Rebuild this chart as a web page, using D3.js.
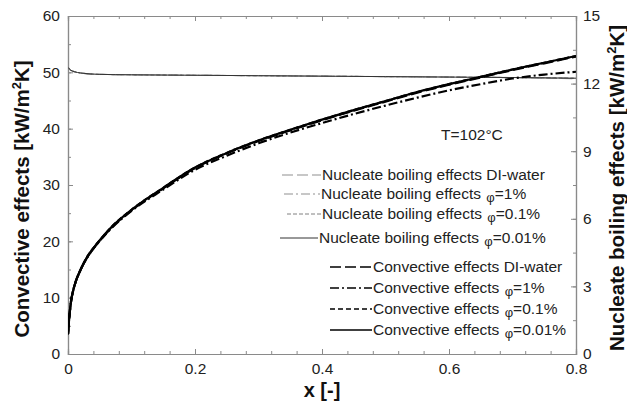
<!DOCTYPE html>
<html><head><meta charset="utf-8">
<script src="https://cdn.jsdelivr.net/npm/d3@7"></script>
<style>body{margin:0;background:#fff}svg{display:block;font-family:"Liberation Sans",Arial,sans-serif}</style>
</head><body><svg id="c" width="627" height="408"></svg>
<script>
// ---- data ----
const xs = [0, 0.002, 0.005, 0.008, 0.012, 0.02, 0.03, 0.04, 0.05, 0.07, 0.1, 0.15, 0.2, 0.25, 0.3, 0.35, 0.4, 0.45, 0.5, 0.55, 0.6, 0.65, 0.7, 0.75, 0.8];
const convDI   = [3.5, 6.5, 9.5, 11.2, 12.8, 15.0, 17.1, 18.7, 20.1, 22.6, 25.5, 29.4, 33.0, 35.6, 37.8, 39.7, 41.5, 43.2, 44.8, 46.4, 47.8, 49.1, 50.4, 51.6, 52.8];
const conv1    = [3.5, 6.5, 9.5, 11.2, 12.8, 15.0, 17.1, 18.7, 20.1, 22.5, 25.4, 29.2, 32.7, 35.2, 37.4, 39.3, 41.0, 42.6, 44.1, 45.5, 46.8, 47.9, 48.9, 49.6, 50.1];
const conv01   = [3.5, 6.5, 9.5, 11.2, 12.8, 15.0, 17.2, 18.8, 20.2, 22.7, 25.6, 29.5, 33.1, 35.7, 37.9, 39.8, 41.6, 43.3, 44.9, 46.5, 47.9, 49.2, 50.5, 51.7, 52.9];
const conv001  = [3.5, 6.5, 9.5, 11.2, 12.8, 15.0, 17.2, 18.8, 20.2, 22.7, 25.6, 29.5, 33.1, 35.7, 37.9, 39.8, 41.6, 43.3, 44.9, 46.5, 47.9, 49.2, 50.5, 51.7, 52.9];
const nxs = [0, 0.004, 0.01, 0.02, 0.05, 0.1, 0.2, 0.3, 0.4, 0.5, 0.6, 0.7, 0.8];
const nucDI  = [12.72, 12.6, 12.53, 12.47, 12.41, 12.39, 12.37, 12.35, 12.33, 12.31, 12.29, 12.26, 12.22];
const nuc1   = [12.72, 12.6, 12.53, 12.47, 12.41, 12.39, 12.37, 12.35, 12.33, 12.31, 12.29, 12.27, 12.23];
const nuc01  = [12.72, 12.6, 12.53, 12.47, 12.41, 12.39, 12.37, 12.35, 12.33, 12.31, 12.29, 12.27, 12.24];
const nuc001 = [12.72, 12.6, 12.53, 12.47, 12.41, 12.39, 12.37, 12.35, 12.33, 12.31, 12.29, 12.27, 12.24];
const xTicks = [0, 0.2, 0.4, 0.6, 0.8];
const yLeftTicks = [0, 10, 20, 30, 40, 50, 60];
const yRightTicks = [0, 3, 6, 9, 12, 15];
const convLabels = ["Convective effects DI-water", "Convective effects |φ|=1%", "Convective effects |φ|=0.1%", "Convective effects |φ|=0.01%"];
const nucLabels = ["Nucleate boiling effects DI-water", "Nucleate boiling effects |φ|=1%", "Nucleate boiling effects |φ|=0.1%", "Nucleate boiling effects |φ|=0.01%"];

// ---- layout ----
const svg = d3.select("#c");
const L = 68, R = 576, T = 16, B = 354;
const FS = 15.5;
const x = d3.scaleLinear().domain([0, 0.8]).range([L, R]);
const yL = d3.scaleLinear().domain([0, 60]).range([B, T]);
const yR = d3.scaleLinear().domain([0, 15]).range([B, T]);
const axisCol = "#8a8a8a", txtCol = "#222";

function styleAxis(g){
  g.select(".domain").attr("stroke", axisCol).attr("stroke-width", 1.2);
  g.selectAll(".tick line").attr("stroke", axisCol);
  g.selectAll(".tick text").attr("fill", txtCol).attr("font-size", FS).attr("font-family", "Liberation Sans, Arial, sans-serif");
}
const xMinor = d3.range(0, 0.8001, 0.04);
svg.append("g").attr("transform", `translate(0,${B})`).call(d3.axisBottom(x).tickValues(xMinor).tickSize(-3).tickFormat("")).call(styleAxis);
svg.append("g").attr("transform", `translate(0,${B})`).call(d3.axisBottom(x).tickValues(xTicks).tickSize(-5).tickPadding(9).tickFormat(d => d === 0 ? "0" : d3.format(".1f")(d))).call(styleAxis);
svg.append("g").attr("transform", `translate(0,${T})`).call(d3.axisTop(x).tickValues(xMinor).tickSize(-3).tickFormat("")).call(styleAxis);
svg.append("g").attr("transform", `translate(0,${T})`).call(d3.axisTop(x).tickValues(xTicks).tickSize(-5).tickFormat("")).call(styleAxis);
svg.append("g").attr("transform", `translate(${L},0)`).call(d3.axisLeft(yL).tickValues(d3.range(0, 60.1, 5)).tickSize(-3).tickFormat("")).call(styleAxis);
svg.append("g").attr("transform", `translate(${L},0)`).call(d3.axisLeft(yL).tickValues(yLeftTicks).tickSize(-5).tickPadding(8)).call(styleAxis);
svg.append("g").attr("transform", `translate(${R},0)`).call(d3.axisRight(yR).tickValues(d3.range(0, 15.1, 1.5)).tickSize(-3).tickFormat("")).call(styleAxis);
svg.append("g").attr("transform", `translate(${R},0)`).call(d3.axisRight(yR).tickValues(yRightTicks).tickSize(-5).tickPadding(7)).call(styleAxis);

// lines
svg.append("clipPath").attr("id","pc").append("rect").attr("x",L).attr("y",T).attr("width",R-L).attr("height",B-T);
const lineL = d3.line().x((d,i)=>x(xs[i])).y(d=>yL(d)).curve(d3.curveMonotoneX);
const lineR = d3.line().x((d,i)=>x(nxs[i])).y(d=>yR(d)).curve(d3.curveMonotoneX);
const nucStyles = [
  {data: nucDI, stroke:"#8f8f8f", w:1.1, dash:"11,4"},
  {data: nuc1, stroke:"#8f8f8f", w:1.1, dash:"9,3,2,3"},
  {data: nuc01, stroke:"#808080", w:1, dash:"4,2"},
  {data: nuc001, stroke:"#333", w:1, dash:null}
];
const convStyles = [
  {data: convDI, stroke:"#000", w:2.2, dash:"11,4"},
  {data: conv1, stroke:"#000", w:2.2, dash:"9,3,2,3"},
  {data: conv01, stroke:"#000", w:2.2, dash:"5,3"},
  {data: conv001, stroke:"#000", w:2.2, dash:null}
];
const pg = svg.append("g").attr("clip-path","url(#pc)");
nucStyles.forEach(s => pg.append("path").attr("d", lineR(s.data)).attr("fill","none")
  .attr("stroke", s.stroke).attr("stroke-width", s.w).attr("stroke-dasharray", s.dash));
convStyles.forEach(s => pg.append("path").attr("d", lineL(s.data)).attr("fill","none")
  .attr("stroke", s.stroke).attr("stroke-width", s.w).attr("stroke-dasharray", s.dash));

// legend
function addLabel(g, tx, ty, label){
  const t = g.append("text").attr("x", tx).attr("y", ty).attr("dy","0.35em").attr("font-size",FS).attr("fill",txtCol);
  const parts = label.split("|");
  parts.forEach((p,i)=>{
    if (i === 1) t.append("tspan").text(p).attr("font-size",13).attr("dy","3").attr("dx","1");
    else if (i === 2) t.append("tspan").text(p).attr("dy","-3");
    else t.append("tspan").text(p);
  });
}
const lg = svg.append("g");
const nucRows = [175, 194, 214, 238];
const nucSample = [[282,321],[284,320],[287,321],[280,318]];
nucStyles.forEach((s,i)=>{
  lg.append("line").attr("x1",nucSample[i][0]).attr("x2",nucSample[i][1]).attr("y1",nucRows[i]).attr("y2",nucRows[i])
    .attr("stroke", s.stroke).attr("stroke-width", s.w).attr("stroke-dasharray", s.dash);
  addLabel(lg, nucSample[i][1] + 1, nucRows[i], nucLabels[i]);
});
const convRows = [267, 288, 309, 330];
convStyles.forEach((s,i)=>{
  lg.append("line").attr("x1",330).attr("x2",372).attr("y1",convRows[i]).attr("y2",convRows[i])
    .attr("stroke", s.stroke).attr("stroke-width", 1.6).attr("stroke-dasharray", s.dash);
  addLabel(lg, 373, convRows[i], convLabels[i]);
});

// annotation
svg.append("text").attr("x", 441).attr("y", 135).attr("dy","0.35em").attr("font-size",FS).attr("fill",txtCol).text("T=102°C");

// axis titles
svg.append("text").attr("x", 322).attr("y", 397).attr("text-anchor","middle").attr("font-size",20).attr("font-weight","bold").attr("fill","#111").text("x [-]");
const lt = svg.append("text").attr("transform","translate(29,199) rotate(-90)").attr("text-anchor","middle").attr("font-size",20.5).attr("font-weight","bold").attr("fill","#111");
lt.append("tspan").text("Convective effects  [kW/m");
lt.append("tspan").text("2").attr("font-size",13).attr("dy",-8);
lt.append("tspan").text("K]").attr("dy",8);
const rt = svg.append("text").attr("transform","translate(624,188) rotate(-90)").attr("text-anchor","middle").attr("font-size",20.5).attr("font-weight","bold").attr("fill","#111");
rt.append("tspan").text("Nucleate boiling effects  [kW/m");
rt.append("tspan").text("2").attr("font-size",13).attr("dy",-8);
rt.append("tspan").text("K]").attr("dy",8);
</script></body></html>
